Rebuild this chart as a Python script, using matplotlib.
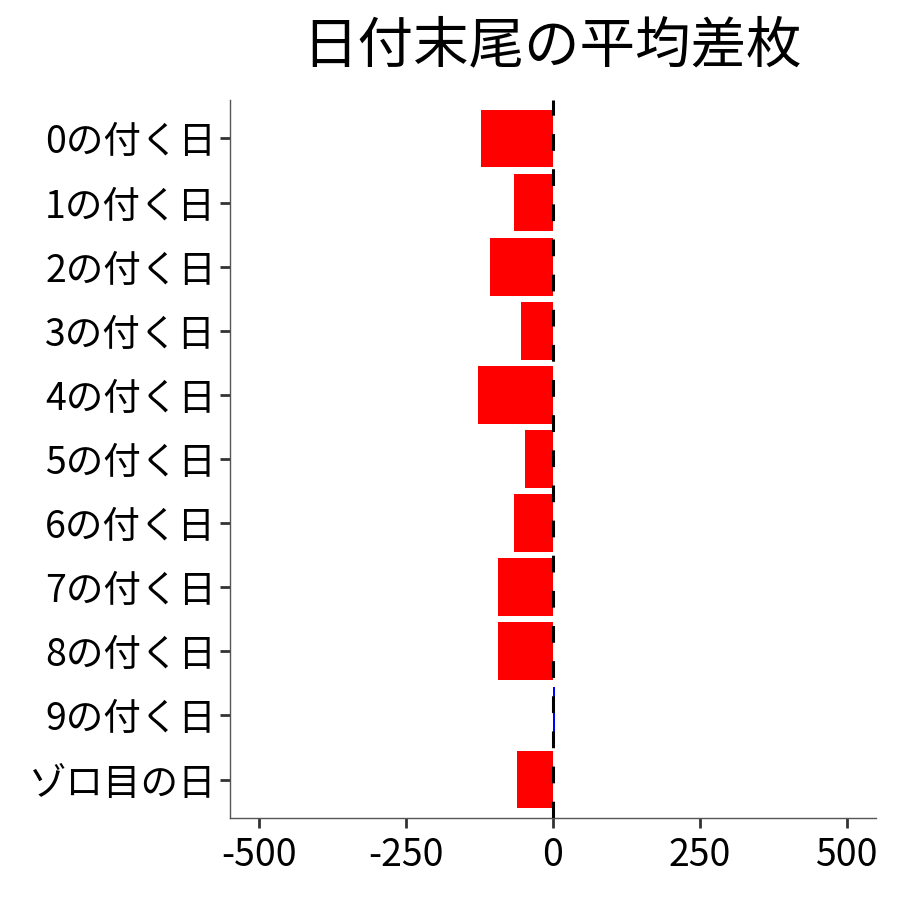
import matplotlib
matplotlib.use('Agg')
import matplotlib.pyplot as plt

plt.rcParams['font.family'] = ['Noto Sans CJK JP', 'DejaVu Sans']

# data
labels = ['0の付く日', '1の付く日', '2の付く日', '3の付く日', '4の付く日',
          '5の付く日', '6の付く日', '7の付く日', '8の付く日', '9の付く日', 'ゾロ目の日']
values = [-123, -67, -108, -55, -128, -48, -67, -93, -93, 3, -62]
ticks = [-500, -250, 0, 250, 500]

colors = ['red' if v < 0 else 'blue' for v in values]
n = len(labels)
ypos = list(range(n - 1, -1, -1))

fig = plt.figure(figsize=(9, 9), dpi=100)
ax = fig.add_axes([230 / 900, 1 - 818 / 900, 646 / 900, 718 / 900])

ax.barh(ypos, values, height=0.9, color=colors, zorder=2)
ax.axvline(0, color='black', lw=2.2, linestyle=(0, (5.5, 6)), zorder=3)

ax.set_xlim(-550, 550)
ax.set_ylim(-0.6, n - 1 + 0.6)
ax.set_xticks(ticks)
ax.set_xticklabels([str(t) for t in ticks])
ax.set_yticks(ypos)
ax.set_yticklabels(labels)

for s in ['top', 'right']:
    ax.spines[s].set_visible(False)
for s in ['left', 'bottom']:
    ax.spines[s].set_color('#555555')
    ax.spines[s].set_linewidth(1.0)

ax.tick_params(axis='both', length=7, width=2, color='#333333',
               labelsize=27, labelcolor='black', pad=3)
ax.tick_params(axis='x', pad=6)

fig.text(552 / 900, 1 - 46 / 900, '日付末尾の平均差枚', fontsize=40,
         ha='center', va='center')

fig.savefig('out.png', dpi=100)
